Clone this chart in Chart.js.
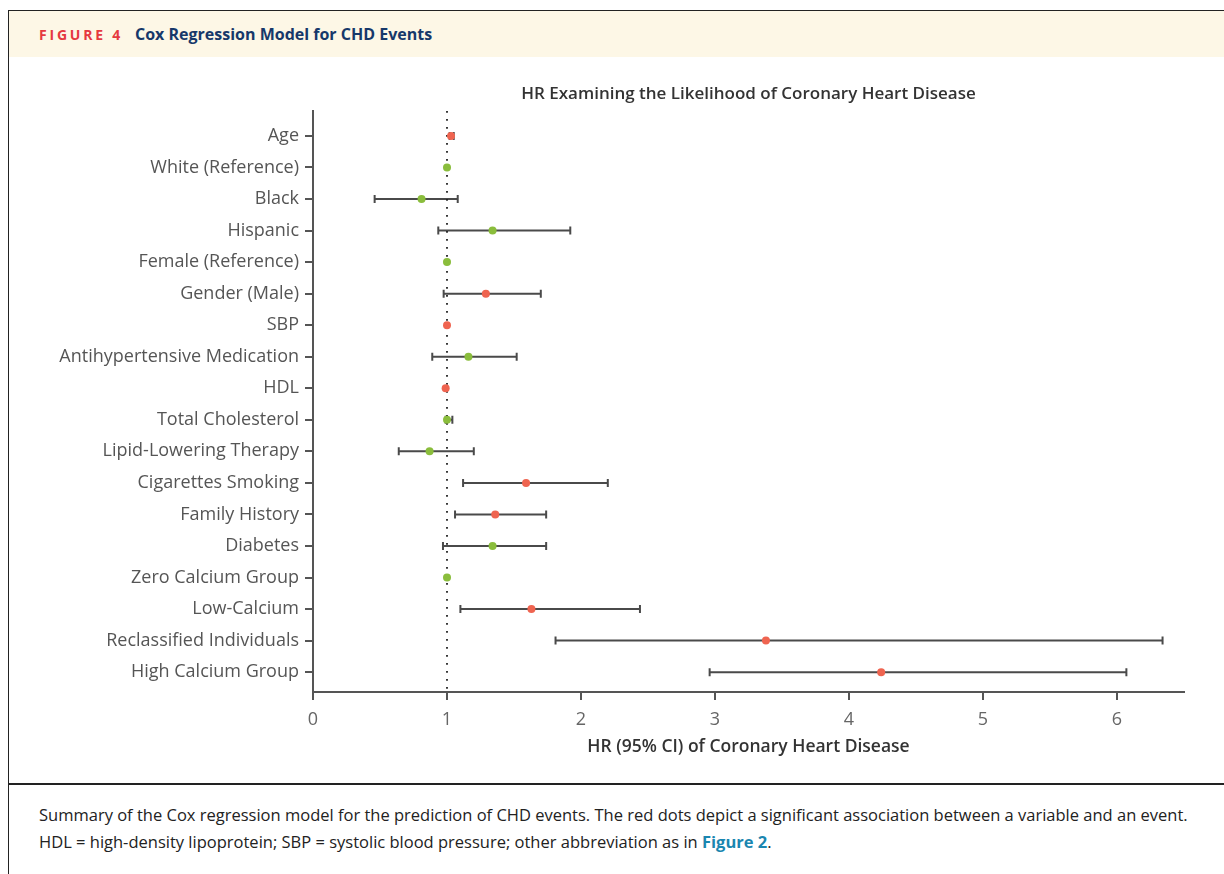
<!DOCTYPE html>
<html>
<head>
<meta charset="utf-8">
<script src="https://cdn.jsdelivr.net/npm/chart.js@4.4.0/dist/chart.umd.min.js"></script>
<style>
  body { margin: 0; background: #fff; font-family: "Open Sans", sans-serif; }
  #frame { position: absolute; left: 8px; top: 10px; width: 1230px; height: 880px;
           border-left: 1.5px solid #222; border-top: 1.5px solid #222; }
  #head { position: absolute; left: 9px; top: 11px; width: 1215px; height: 46px; background: #fdf7e6; }
  #head .fig { position: absolute; left: 30px; top: 14px; font: 700 14px "Open Sans", sans-serif;
               letter-spacing: 2.8px; color: #e5393f; }
  #head .ttl { position: absolute; left: 126px; top: 12px; font: 700 16px "Open Sans", sans-serif; color: #16386a; }
  #sep { position: absolute; left: 9px; top: 783px; width: 1215px; height: 1.5px; background: #222; }
  #cap { position: absolute; left: 39px; top: 801px; font: 16.5px "Open Sans", sans-serif; color: #222; line-height: 27px; }
  #cap b { color: #1a86b0; }
  #wrap { position: absolute; left: 0; top: 59px; width: 1224px; height: 724px; }
</style>
</head>
<body>
<div id="frame"></div>
<div id="head"><span class="fig">FIGURE 4</span><span class="ttl">Cox Regression Model for CHD Events</span></div>
<div id="wrap"><canvas id="chart"></canvas></div>
<div id="sep"></div>
<div id="cap">Summary of the Cox regression model for the prediction of CHD events. The red dots depict a significant association between a variable and an event.<br>
HDL = high-density lipoprotein; SBP = systolic blood pressure; other abbreviation as in <b>Figure 2</b>.</div>
<script>
const labels = ['Age', 'White (Reference)', 'Black', 'Hispanic', 'Female (Reference)', 'Gender (Male)', 'SBP',
  'Antihypertensive Medication', 'HDL', 'Total Cholesterol', 'Lipid-Lowering Therapy', 'Cigarettes Smoking',
  'Family History', 'Diabetes', 'Zero Calcium Group', 'Low-Calcium', 'Reclassified Individuals', 'High Calcium Group'];
const hr    = [1.03, 1.00, 0.81, 1.34, 1.00, 1.29, 1.00, 1.16, 0.99, 1.00, 0.87, 1.59, 1.36, 1.34, 1.00, 1.63, 3.38, 4.24];
const lower = [1.02, null, 0.46, 0.935, null, 0.975, null, 0.89, null, 0.99, 0.64, 1.12, 1.06, 0.97, null, 1.10, 1.81, 2.96];
const upper = [1.05, null, 1.08, 1.92, null, 1.70, null, 1.52, null, 1.04, 1.20, 2.20, 1.74, 1.74, null, 2.44, 6.34, 6.07];
const significant = [1, 0, 0, 0, 0, 1, 1, 0, 1, 0, 0, 1, 1, 0, 0, 1, 1, 1];
const xTicks = [0, 1, 2, 3, 4, 5, 6];

const red = '#ef6450';
const green = '#8abd3c';
const axisColor = '#555';

// error bars drawn through the chart scales
const errorBars = {
  id: 'errorBars',
  beforeDatasetsDraw(chart) {
    const ctx = chart.ctx;
    const xs = chart.scales.x, ys = chart.scales.y;
    ctx.save();
    ctx.strokeStyle = '#4a4a4a';
    ctx.lineWidth = 2;
    hr.forEach((v, i) => {
      if (lower[i] == null) return;
      const y = ys.getPixelForValue(i);
      const x1 = xs.getPixelForValue(lower[i]);
      const x2 = xs.getPixelForValue(upper[i]);
      ctx.beginPath();
      ctx.moveTo(x1, y); ctx.lineTo(x2, y);
      ctx.moveTo(x1, y - 4); ctx.lineTo(x1, y + 4);
      ctx.moveTo(x2, y - 4); ctx.lineTo(x2, y + 4);
      ctx.stroke();
    });
    ctx.restore();
  }
};

new Chart(document.getElementById('chart'), {
  type: 'scatter',
  data: {
    datasets: [
      {
        type: 'line',
        data: [{x: 1, y: -0.79}, {x: 1, y: 17.63}],
        borderColor: '#222',
        borderWidth: 1.8,
        borderDash: [1.8, 6.2],
        pointRadius: 0,
        order: 2
      },
      {
        data: hr.map((v, i) => ({x: v, y: i})),
        pointRadius: 4,
        pointHoverRadius: 4,
        pointBorderWidth: 0,
        pointBackgroundColor: hr.map((v, i) => significant[i] ? red : green),
        order: 1
      }
    ]
  },
  plugins: [errorBars],
  options: {
    responsive: true,
    maintainAspectRatio: false,
    animation: false,
    events: [],
    layout: { padding: { right: 40, left: 0, top: 0, bottom: 0 } },
    plugins: {
      legend: { display: false },
      tooltip: { enabled: false },
      title: {
        display: true,
        fullSize: false,
        text: 'HR Examining the Likelihood of Coronary Heart Disease',
        color: '#333',
        font: { family: 'Open Sans', size: 17, weight: '600' },
        padding: { top: 24.8, bottom: 6.8 }
      }
    },
    scales: {
      x: {
        type: 'linear',
        min: 0,
        max: 6.5,
        afterBuildTicks: s => { s.ticks = xTicks.map(v => ({value: v})); },
        afterFit: s => { s.height = 91; },
        ticks: { color: '#666', font: { family: 'Open Sans', size: 18 }, padding: 9 },
        grid: { drawOnChartArea: false, drawTicks: true, tickLength: 8, color: axisColor, lineWidth: 2 },
        border: { display: true, color: axisColor, width: 2 },
        title: {
          display: true,
          text: 'HR (95% CI) of Coronary Heart Disease',
          color: '#333',
          font: { family: 'Open Sans', size: 17.5, weight: '600' },
          padding: { top: 0, bottom: 25 }
        }
      },
      y: {
        type: 'linear',
        reverse: true,
        min: -0.79,
        max: 17.63,
        afterBuildTicks: s => { s.ticks = labels.map((l, i) => ({value: i})); },
        afterFit: s => { s.width = 313; },
        ticks: {
          color: '#555',
          font: { family: 'Open Sans', size: 18 },
          padding: 6,
          callback: v => labels[v]
        },
        grid: { drawOnChartArea: false, drawTicks: true, tickLength: 8, color: axisColor, lineWidth: 2 },
        border: { display: true, color: axisColor, width: 2 }
      }
    }
  }
});
</script>
</body>
</html>
